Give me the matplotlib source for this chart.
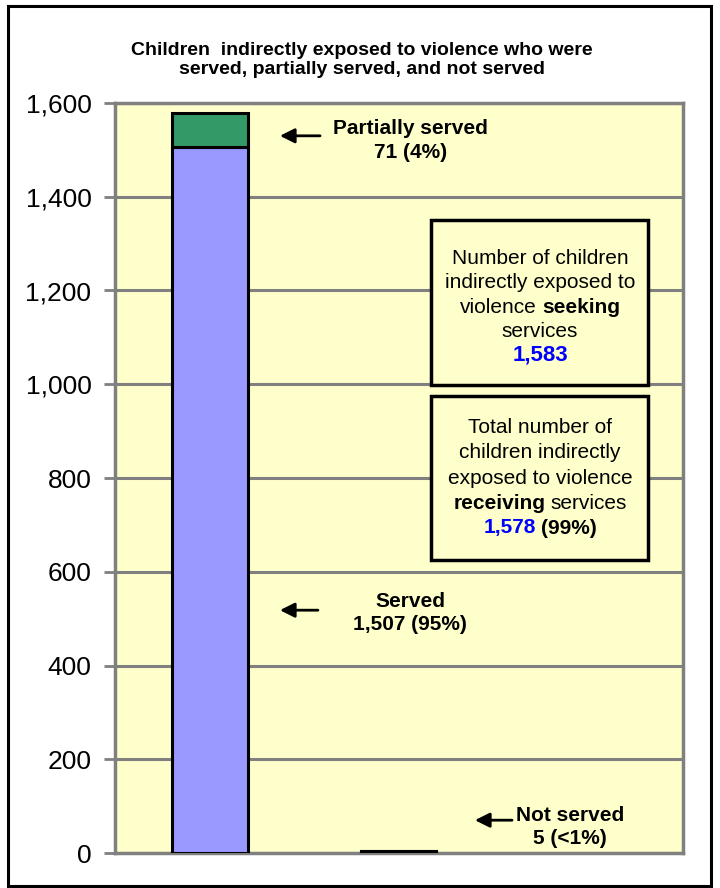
import matplotlib
matplotlib.use("Agg")
import matplotlib.pyplot as plt
from matplotlib.patches import Rectangle
from matplotlib.transforms import offset_copy

plt.rcParams['font.family'] = ['Liberation Sans', 'DejaVu Sans']

# data
served = 1507
partial = 71
not_served = 5
served_pct, partial_pct, not_pct = '95%', '4%', '<1%'
seeking = 1583
receiving = 1578
receiving_pct = '99%'
yticks = [0, 200, 400, 600, 800, 1000, 1200, 1400, 1600]

c_served = '#9999FF'
c_partial = '#339966'
c_not = '#993300'
c_bg = '#FFFFCC'
c_grid = '#808080'

fig = plt.figure(figsize=(7.2, 8.88), dpi=100)
# black frame around the whole chart
fig.patches.append(Rectangle((8 / 720, 1 - 886 / 888), 703 / 720, 880 / 888,
                             transform=fig.transFigure, fill=False,
                             edgecolor='black', lw=2.2))

ax = fig.add_axes([115 / 720, 1 - 853 / 888, 568 / 720, 750 / 888])
ax.set_facecolor(c_bg)
ax.bar([0], [served], width=0.4, color=c_served, edgecolor='black', lw=2.2, zorder=3)
ax.bar([0], [partial], width=0.4, bottom=[served], color=c_partial, edgecolor='black', lw=2.2, zorder=3)
ax.bar([1], [not_served], width=0.4, color=c_not, edgecolor='black', lw=1.5, zorder=3)

ax.set_xlim(-0.5, 2.5)
ax.set_ylim(0, 1600)
ax.set_yticks(yticks)
ax.set_yticklabels([f'{v:,}' for v in yticks])
ax.set_xticks([])
ax.tick_params(axis='y', length=8, width=2, color=c_grid, labelsize=19, pad=9)
ax.yaxis.grid(True, color=c_grid, lw=2.2)
ax.set_axisbelow(True)
for sp in ax.spines.values():
    sp.set_color(c_grid)
    sp.set_linewidth(2.5)

fig.text(0.503, 1 - 60 / 888,
         'Children  indirectly exposed to violence who were\nserved, partially served, and not served',
         ha='center', va='center', fontsize=14, fontweight='bold', linespacing=1.15)

arrow = dict(arrowstyle='-|>', color='black', lw=2, mutation_scale=22,
             shrinkA=0, shrinkB=0)
ax.annotate('', xy=(0.371, 1530), xytext=(0.583, 1530), arrowprops=arrow, zorder=5)
ax.annotate('', xy=(0.371, 518), xytext=(0.572, 518), arrowprops=arrow, zorder=5)
ax.annotate('', xy=(1.401, 70), xytext=(1.597, 70), arrowprops=arrow, zorder=5)

lbl = dict(ha='center', va='center', fontsize=15, fontweight='bold', linespacing=1.3, zorder=5)
ax.text(1.063, 1520, f'Partially served\n{partial} ({partial_pct})', **lbl)
ax.text(1.058, 512, f'Served\n{served:,} ({served_pct})', **lbl)
ax.text(1.903, 56, f'Not served\n{not_served} ({not_pct})', **lbl)

# the two boxes
for y0, y1 in [(998, 1350), (625, 975)]:
    ax.add_patch(Rectangle((1.17, y0), 2.315 - 1.17, y1 - y0, facecolor=c_bg,
                           edgecolor='black', lw=2.5, zorder=4))

renderer = fig.canvas.get_renderer()


def line(xc, yc, pieces, size=15):
    # pieces: (text, weight, color), centred as one line
    texts = []
    for s, w, c in pieces:
        texts.append(ax.text(xc, yc, s, ha='left', va='center', fontsize=size,
                             fontweight=w, color=c, zorder=5))
    widths = [t.get_window_extent(renderer).width for t in texts]
    gap = 0.25 * size * fig.dpi / 72
    total = sum(widths) + gap * (len(texts) - 1)
    off = -total / 2
    for t, w in zip(texts, widths):
        t.set_transform(offset_copy(ax.transData, fig=fig, x=off, y=0, units='dots'))
        off += w + gap


def ypx(py):
    return (853 - py) / 750 * 1600


xc = 1.745
line(xc, ypx(258), [('Number of children', 'normal', 'black')])
line(xc, ypx(283), [('indirectly exposed to', 'normal', 'black')])
line(xc, ypx(307), [('violence', 'normal', 'black'), ('seeking', 'bold', 'black')])
line(xc, ypx(331), [('services', 'normal', 'black')])
line(xc, ypx(355), [(f'{seeking:,}', 'bold', 'blue')], size=16)

line(xc, ypx(427), [('Total number of', 'normal', 'black')])
line(xc, ypx(452), [('children indirectly', 'normal', 'black')])
line(xc, ypx(478), [('exposed to violence', 'normal', 'black')])
line(xc, ypx(503), [('receiving', 'bold', 'black'), ('services', 'normal', 'black')])
line(xc, ypx(528), [(f'{receiving:,}', 'bold', 'blue'),
                    (f'({receiving_pct})', 'bold', 'black')])

fig.savefig('out.png', dpi=100)
